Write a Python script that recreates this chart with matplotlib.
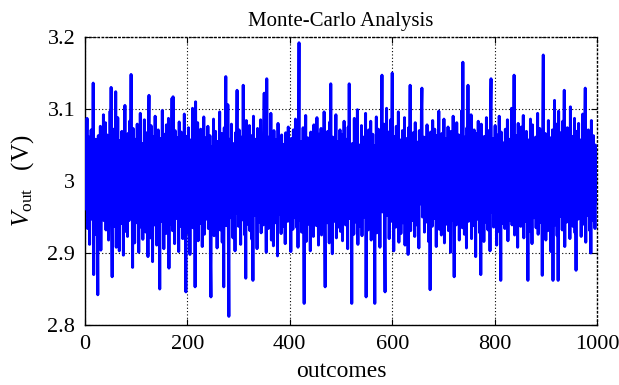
import numpy as np
import matplotlib
matplotlib.use("Agg")
import matplotlib.pyplot as plt

plt.rcParams['font.family'] = ['Liberation Serif', 'DejaVu Serif']
plt.rcParams['mathtext.fontset'] = 'custom'
plt.rcParams['mathtext.rm'] = 'Liberation Serif'
plt.rcParams['mathtext.it'] = 'Liberation Serif:italic'

# Monte-Carlo outcomes, output voltage in mV
vout_mV = [
    3052, 2961, 3018, 3087, 2934, 3004, 2978, 3061, 2912, 3033, 2989, 3071, 2947, 3012, 2968, 3136, 2870, 3044, 2995, 2926,
    3058, 2983, 3017, 2951, 2842, 3063, 2990, 3029, 2938, 3076, 2904, 3011, 2966, 3048, 2979, 3092, 2945, 3020, 2957, 3081,
    2932, 3006, 3064, 2971, 3039, 2918, 3025, 2960, 3097, 2985, 3130, 2948, 2867, 3035, 2996, 3072, 2937, 3014, 2954, 3124,
    2908, 3043, 2976, 3088, 2952, 3021, 2903, 3056, 2987, 3009, 2941, 3069, 2965, 3032, 2897, 3050, 2980, 3105, 2930, 3015,
    2972, 3047, 2923, 3066, 2999, 2945, 3083, 2960, 3028, 3148, 2955, 3010, 2880, 3073, 2990, 3036, 2914, 3058, 2968, 3003,
    2942, 3079, 2986, 3024, 2901, 3061, 2975, 3094, 2936, 3013, 2962, 3052, 2919, 3038, 2993, 3085, 2950, 3007, 2929, 3067,
    2981, 3031, 2895, 3055, 3119, 2958, 3003, 2921, 3077, 2970, 3042, 2888, 3062, 2997, 3016, 2939, 3090, 2964, 3027, 2911,
    3049, 2984, 3071, 2933, 3008, 2850, 3059, 2977, 3036, 2944, 3098, 2962, 3019, 2906, 3065, 2989, 3041, 2927, 3078, 2953,
    3012, 2968, 3087, 2879, 3034, 2991, 3057, 2940, 3023, 3115, 2931, 3117, 2965, 3046, 2913, 3070, 2986, 3002, 2948, 3060,
    2973, 3039, 2902, 3082, 2959, 3025, 2937, 3068, 2994, 3011, 2920, 3054, 2982, 3093, 2943, 3030, 2846, 3062, 2976, 3017,
    2929, 3074, 2966, 3040, 2898, 3057, 2988, 3013, 2951, 3101, 2935, 3033, 2970, 3064, 2853, 3110, 2957, 3026, 2992, 3081,
    2917, 3045, 2963, 3008, 2941, 3072, 2984, 3051, 2909, 3018, 2974, 3089, 2926, 3037, 2998, 3060, 2947, 3005, 2961, 3076,
    2934, 3022, 2980, 3063, 2893, 2839, 3048, 2969, 3015, 2952, 3086, 2924, 3034, 2987, 3069, 2944, 3010, 2907, 3055, 2978,
    3041, 2958, 3096, 2932, 3019, 2971, 3066, 2915, 3028, 2990, 2853, 3074, 2962, 3012, 3145, 2938, 3049, 2983, 3106, 2928,
    2812, 3058, 2995, 3031, 2949, 3079, 2967, 3009, 2921, 3052, 2986, 3024, 2903, 3067, 2972, 3040, 3126, 2955, 3016, 2937,
    3071, 2979, 3035, 2912, 3061, 2993, 3007, 2946, 3133, 2965, 3043, 2925, 3018, 2865, 3084, 2976, 3050, 2940, 3002, 2960,
    3077, 2931, 3029, 2985, 3063, 2919, 3046, 2862, 3090, 2969, 3011, 2952, 3058, 2996, 3022, 2906, 3073, 2981, 3037, 2943,
    3006, 2963, 3085, 2928, 3048, 2974, 3014, 2939, 3066, 3122, 2957, 3027, 2991, 2901, 3142, 2970, 3053, 2934, 3019, 2982,
    3062, 2948, 3094, 2918, 3031, 2987, 3045, 2910, 3070, 2966, 3003, 2942, 3057, 2975, 3024, 2896, 3080, 2961, 3013, 2954,
    2988, 3038, 2927, 3064, 2971, 3009, 2937, 3051, 2984, 3020, 2913, 3067, 2959, 3034, 2999, 2944, 3075, 2967, 3028, 2950,
    3015, 2902, 3059, 2978, 3042, 2933, 3071, 2964, 3006, 2949, 3086, 2990, 3023, 2935, 3047, 2908, 3063, 3192, 2946, 3030,
    2972, 3055, 2929, 3016, 2985, 3074, 2951, 2830, 3039, 2968, 3091, 2916, 3027, 2993, 3060, 2940, 3011, 2977, 3049, 2903,
    3068, 2960, 3033, 2986, 3002, 2923, 3078, 2956, 3025, 2998, 3053, 2938, 3088, 2969, 3012, 2911, 3065, 2982, 3036, 2947,
    3073, 2925, 3008, 2963, 3044, 2989, 3096, 2934, 2853, 3057, 2974, 3019, 2942, 3069, 2995, 3028, 2914, 3082, 2958, 3135,
    2966, 3031, 2899, 3061, 2980, 3014, 2944, 3048, 2973, 3092, 2921, 3037, 2987, 3055, 2936, 3004, 2961, 3071, 2930, 3023,
    2990, 3064, 2917, 3040, 2976, 3083, 2953, 3010, 2939, 3058, 2984, 3026, 2906, 3075, 2967, 3135, 2948, 3018, 2994, 3046,
    2830, 3052, 2971, 3029, 2926, 3087, 2959, 3005, 2943, 3066, 2982, 3099, 2912, 3034, 2978, 3050, 2937, 3013, 2965, 3077,
    2924, 3042, 2986, 3061, 2950, 3009, 2979, 3094, 2839, 3058, 2969, 3020, 2932, 3071, 2992, 3037, 2955, 3083, 2918, 3027,
    2983, 3065, 2941, 3012, 2974, 2830, 3049, 2963, 3089, 2928, 3035, 2997, 3072, 2946, 3016, 2908, 3060, 2970, 3041, 3147,
    2957, 3024, 2985, 3079, 2934, 2846, 3053, 2967, 3101, 2952, 3030, 2989, 3068, 2920, 3007, 2973, 3085, 2944, 3038, 3150,
    2961, 3019, 2903, 3062, 2980, 3046, 2936, 3076, 2993, 3011, 2949, 3096, 2915, 3033, 2970, 3057, 2927, 3004, 2985, 3070,
    2942, 3027, 2966, 3088, 2911, 3043, 2978, 3059, 2954, 3015, 2898, 3074, 2962, 3036, 3133, 2931, 3050, 2988, 3021, 2945,
    3067, 2976, 3008, 2923, 3081, 2959, 3039, 2996, 3054, 2938, 3013, 2907, 3070, 2968, 3032, 2981, 3093, 3129, 2950, 3025,
    2972, 3061, 2929, 3044, 2987, 3010, 2943, 3078, 2960, 3036, 2916, 3055, 2991, 2849, 3068, 2975, 3023, 2937, 3084, 2965,
    3002, 2948, 3072, 2984, 3031, 2909, 3063, 2956, 3017, 2994, 3097, 2933, 3045, 2977, 3008, 2925, 3066, 2969, 3040, 2952,
    3086, 2914, 3029, 2988, 3059, 2940, 3012, 2973, 3075, 2931, 3048, 2998, 3021, 2901, 3069, 2962, 3035, 2946, 3090, 2980,
    2867, 3053, 2976, 3016, 2939, 3081, 2958, 3027, 2993, 3064, 2918, 3042, 2985, 3006, 2950, 3098, 2935, 3165, 2971, 3038,
    2926, 3061, 2990, 3019, 2907, 3074, 2966, 3133, 2944, 3030, 2983, 3057, 2952, 3092, 2920, 3009, 2975, 3045, 2938, 3071,
    2961, 3024, 2895, 3066, 2987, 3011, 2947, 3083, 2969, 3037, 2928, 3056, 2870, 3079, 2954, 3003, 2982, 3048, 2916, 3062,
    2991, 3032, 2943, 3088, 2965, 3014, 2932, 3070, 2978, 3041, 2903, 3096, 3142, 2957, 3026, 2985, 3059, 2936, 3018, 2973,
    3077, 2948, 3033, 2911, 3064, 2986, 3007, 2955, 3090, 2929, 3044, 2862, 3068, 2970, 3021, 2941, 3053, 2997, 3015, 2934,
    3072, 2963, 3039, 2981, 3085, 2917, 3010, 2976, 3058, 2945, 3027, 2992, 3101, 2939, 3049, 2968, 3006, 3147, 2925, 3035,
    2979, 3063, 2952, 3018, 2908, 3080, 2971, 3042, 2987, 3013, 2937, 3075, 2960, 3029, 2996, 3091, 2921, 3054, 2966, 3004,
    2944, 3069, 2982, 3025, 2862, 3057, 2975, 3036, 2930, 3086, 2958, 3012, 2913, 3078, 2990, 3047, 2949, 3020, 2972, 3061,
    2935, 3040, 2998, 3094, 2926, 3015, 2964, 3073, 2985, 3031, 2942, 3055, 2869, 3088, 3175, 2953, 3022, 2979, 3066, 2918,
    3009, 2967, 3050, 2931, 3084, 2988, 3034, 2946, 3060, 2902, 3027, 2974, 3071, 2862, 3045, 2983, 3112, 2939, 3016, 2957,
    3079, 2924, 3038, 2862, 3097, 2970, 3013, 2951, 3067, 2985, 3043, 2932, 3083, 2960, 3024, 3126, 2909, 3052, 2977, 3006,
    2943, 3074, 2966, 3031, 2989, 3058, 2920, 3103, 2955, 3019, 2976, 3062, 2937, 3046, 2993, 3087, 2928, 3011, 2876, 3069,
    2981, 3035, 2947, 3080, 2964, 3014, 2990, 3057, 2923, 3041, 2971, 3093, 2940, 3025, 2986, 3065, 3129, 2915, 3048, 2962,
    3008, 2952, 3071, 2979, 3036, 2931, 3059, 2900, 3084, 2968, 3027, 2945, 3063, 2987, 3013, 2934, 3050, 2976, 3020, 2971,
]
outcomes = np.arange(1, len(vout_mV) + 1)
vout = np.array(vout_mV) / 1000.0

x_ticks = [0, 200, 400, 600, 800, 1000]
y_ticks = [2.8, 2.9, 3.0, 3.1, 3.2]
y_ticklabels = ['2.8', '2.9', '3', '3.1', '3.2']

fig = plt.figure(figsize=(6.19, 3.85), dpi=100)
ax = fig.add_axes([0.1373, 0.1558, 0.8272, 0.7481])
ax.plot(outcomes, vout, color='#0000ff', linewidth=2.1, zorder=3)

ax.set_xlim(0, 1000)
ax.set_ylim(2.8, 3.2)
ax.set_xticks(x_ticks)
ax.set_yticks(y_ticks)
ax.set_yticklabels(y_ticklabels)
ax.grid(True, color='black', linestyle=(0, (1, 2)), linewidth=0.8, zorder=1)
ax.tick_params(direction='in', length=4, width=0.8, top=True, right=True,
               labelsize=16, colors='black')
ax.tick_params(axis='x', pad=7)
ax.tick_params(axis='y', pad=7)
for side in ['left', 'bottom']:
    ax.spines[side].set_linewidth(1.0)
for side in ['top', 'right']:
    ax.spines[side].set_linestyle((0, (1, 2)))
    ax.spines[side].set_linewidth(1.0)

ax.set_title('Monte-Carlo Analysis', fontsize=15, pad=8)
ax.set_xlabel('outcomes', fontsize=17, labelpad=5)
ax.set_ylabel(r'$V_{\mathrm{out}}$   (V)', fontsize=18, labelpad=8)

fig.savefig('out.png', dpi=100)
